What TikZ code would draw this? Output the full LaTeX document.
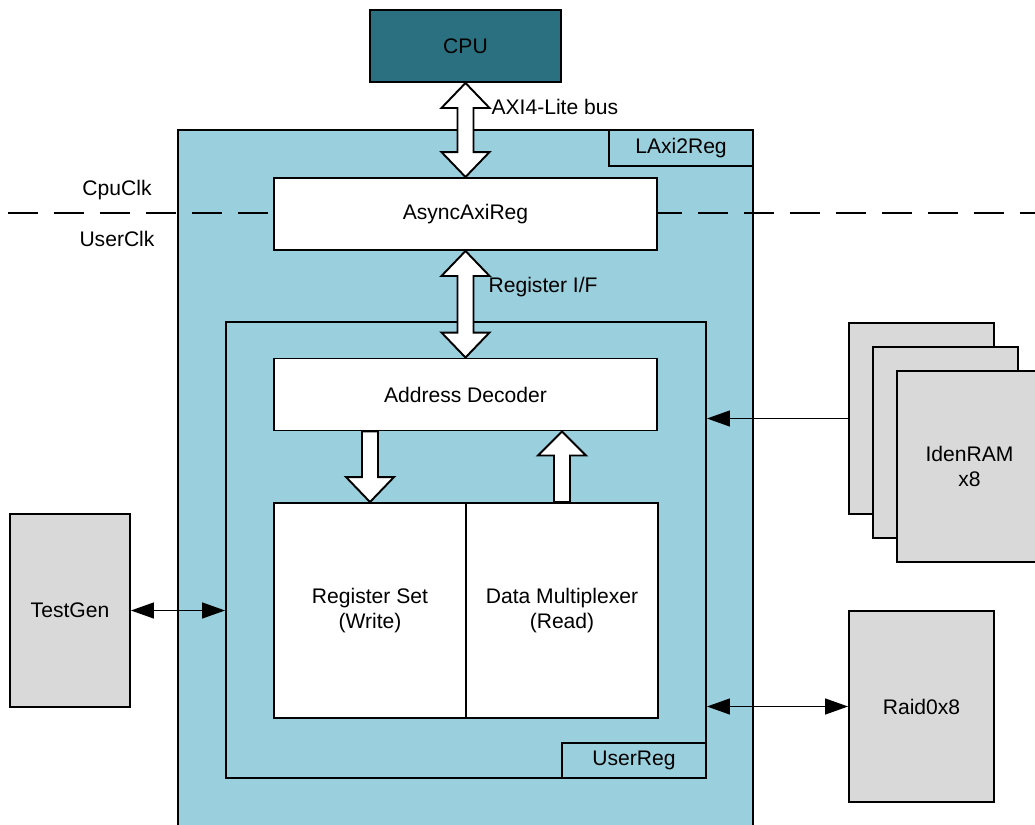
\documentclass[tikz,border=0pt]{standalone}
\usepackage{fontspec}
\setmainfont{Liberation Sans}
\usetikzlibrary{calc,arrows.meta}

\definecolor{regblue}{RGB}{154,208,221}
\definecolor{cputeal}{RGB}{43,112,128}
\definecolor{extgray}{RGB}{217,217,217}

\begin{document}
\begin{tikzpicture}[x=0.02cm,y=-0.02cm,font=\fontsize{12}{14}\selectfont]

\tikzstyle{mybox}=[rectangle,
draw=black,
line width=1.1pt,
inner sep=0pt,
align=center
]
\tikzstyle{myblock}=[draw=black, fill=white, line width=1.1pt, line join=miter]
\tikzstyle{myarrow}=[line width=0.8pt, -{Triangle[length=0.46cm,width=0.32cm]}]
\tikzstyle{mydbl}=[line width=0.8pt, {Triangle[length=0.46cm,width=0.32cm]}-{Triangle[length=0.46cm,width=0.32cm]}]
\tikzstyle{myclk}=[line width=0.8pt, dash pattern=on 0.6cm off 0.32cm]
\tikzset{wh/.style 2 args={minimum width=#1*0.02cm, minimum height=#2*0.02cm}}

\useasboundingbox (0,0) rectangle (1035,825);

\coordinate (clkl) at (8,213);
\coordinate (clkr) at (1035,213);

% outer wrapper
\node[mybox, fill=regblue, wh={575}{705}] (laxi) at (465.5,482.5) {};
\node[mybox, fill=regblue, wh={144}{36}] (laxilbl) at (681,148) {LAxi2Reg};

% clock domain line
\draw[myclk] (clkl) -- (clkr);
\node (cpuclk) at (117,190) {CpuClk};
\node (userclk) at (117,239) {UserClk};

\node[mybox, fill=cputeal, wh={191}{72}] (cpu) at (465.5,46) {CPU};
\node[mybox, fill=white, wh={383}{72}] (axireg) at (465.5,214) {AsyncAxiReg};

% user register block
\node[mybox, fill=regblue, wh={480}{456}] (userreg) at (466,550) {};
\node[mybox, fill=regblue, wh={144}{35}] (userlbl) at (634,760.5) {UserReg};
\node[mybox, fill=white, wh={383}{72}] (decoder) at (465.5,394.5) {Address Decoder};
\node[mybox, fill=white, wh={192}{215}] (regset) at (370,610.5) {Register Set\\(Write)};
\node[mybox, fill=white, wh={192}{215}] (datamux) at (562,610.5) {Data Multiplexer\\(Read)};

% outside blocks
\node[mybox, fill=extgray, wh={120}{193}] (testgen) at (70,610.5) {TestGen};
\node[mybox, fill=extgray, wh={145}{191}] (ram1) at (921.5,418.5) {};
\node[mybox, fill=extgray, wh={145}{191}] (ram2) at (945.5,442.5) {};
\node[mybox, fill=extgray, wh={145}{191}] (ram3) at (969.5,466.5) {IdenRAM\\x8};
\node[mybox, fill=extgray, wh={145}{191}] (raid) at (921.5,706.5) {Raid0x8};

% block arrows
\draw[myblock] (cpu.south) -- ++(24,25) -- ++(-16,0) -- ($(axireg.north)+(8,-25)$) -- ++(16,0) -- (axireg.north) -- ++(-24,-25) -- ++(16,0) -- ($(cpu.south)+(-8,25)$) -- ++(-16,0) -- cycle;
\node[anchor=west, inner sep=1pt] (axilbl) at ($(cpu.south)+(24,24)$) {AXI4-Lite bus};

\draw[myblock] (axireg.south) -- ++(24,25) -- ++(-16,0) -- ($(decoder.north)+(8,-25)$) -- ++(16,0) -- (decoder.north) -- ++(-24,-25) -- ++(16,0) -- ($(axireg.south)+(-8,25)$) -- ++(-16,0) -- cycle;
\node[anchor=west, inner sep=1pt] (reglbl) at ($(axireg.south)+(21,36)$) {Register I/F};

\draw[myblock] ($(decoder.south -| regset.north)+(-8,0)$) -- ($(regset.north)+(-8,-25)$) -- ++(-16,0) -- (regset.north) -- ++(24,-25) -- ++(-16,0) -- ($(decoder.south -| regset.north)+(8,0)$) -- cycle;
\draw[myblock] ($(datamux.north)+(-8,0)$) -- ($(decoder.south -| datamux.north)+(-8,24)$) -- ++(-16,0) -- (decoder.south -| datamux.north) -- ++(24,24) -- ++(-16,0) -- ($(datamux.north)+(8,0)$) -- cycle;

% connectors
\draw[myarrow] (ram1.west) -- (ram1.west -| userreg.east);
\draw[mydbl] (testgen.east) -- (testgen.east -| userreg.west);
\draw[mydbl] (raid.west) -- (raid.west -| userreg.east);

\end{tikzpicture}
\end{document}
